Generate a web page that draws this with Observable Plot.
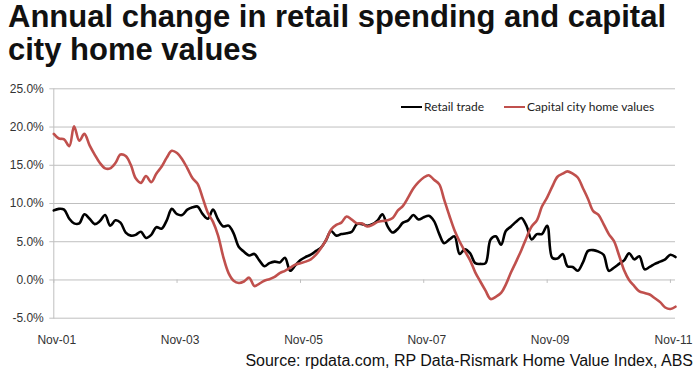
<!DOCTYPE html>
<html><head><meta charset="utf-8">
<script src="https://cdn.jsdelivr.net/npm/d3@7"></script>
<script src="https://cdn.jsdelivr.net/npm/@observablehq/plot@0.6"></script>
<style>
body{margin:0;background:#fff;width:698px;height:376px;overflow:hidden;position:relative;font-family:"Liberation Sans",Arial,sans-serif}
#title{height:70px;font-size:31px;font-weight:bold;line-height:33px;padding-left:8px;color:#111;white-space:nowrap}
#chart{height:280px}
#chart svg{display:block}
#caption{font-size:16px;line-height:18px;text-align:right;padding-right:5px;padding-top:2px;color:#111}
#legend{position:absolute;top:99px;left:401px;font-family:Lato,"Open Sans",sans-serif;font-size:12px;color:#222;white-space:nowrap;line-height:16px}
#legend .item{display:inline-block;margin-right:20px}
#legend .sw{display:inline-block;width:21px;height:0;border-top:2.5px solid;vertical-align:middle;margin-right:2px;position:relative;top:-1px}
</style></head>
<body>
<div id="title">Annual change in retail spending and capital<br>city home values</div>
<div id="chart"></div>
<div id="caption">Source: rpdata.com, RP Data-Rismark Home Value Index, ABS</div>
<div id="legend"></div>
<script>
// Monthly series from Nov-01 to Dec-11 (annual % change)
const seriesNames = ["Retail trade", "Capital city home values"];
const seriesColors = ["#000000", "#c0504d"];
const retail = [
 9.1, 9.3, 9.2, 8.0, 7.4, 7.4, 8.6, 8.0, 7.3, 7.7,
 8.5, 7.1, 7.8, 7.5, 6.2, 5.8, 5.9, 6.3, 5.5, 5.9,
 6.9, 6.7, 7.8, 9.3, 8.6, 8.5, 9.2, 9.5, 9.6, 8.6,
 8.0, 9.2, 7.9, 7.0, 7.1, 6.1, 4.3, 3.7, 3.2, 3.4,
 2.6, 1.8, 2.2, 2.4, 2.3, 2.9, 1.2, 1.9, 2.6, 3.0,
 3.3, 3.8, 4.2, 5.2, 6.4, 5.8, 6.0, 6.1, 6.3, 7.3,
 7.3, 7.1, 7.3, 7.8, 8.6, 7.0, 6.2, 6.7, 7.5, 7.8,
 8.5, 7.9, 8.2, 8.4, 7.7, 6.0, 4.8, 5.3, 5.7, 3.4,
 4.0, 3.5, 2.2, 2.1, 2.2, 5.3, 5.7, 4.6, 6.4, 7.0,
 7.6, 8.1, 7.1, 5.3, 6.0, 6.0, 7.1, 2.9, 2.8, 3.4,
 1.8, 1.7, 1.2, 2.3, 3.8, 3.9, 3.7, 3.3, 1.2, 1.6,
 2.1, 2.6, 3.5, 2.7, 3.1, 1.4, 1.7, 2.1, 2.4, 2.7,
 3.3, 3.0
];
const homes = [
 19.1, 18.5, 18.4, 17.5, 20.1, 18.2, 19.1, 17.6, 16.4, 15.3,
 14.6, 14.6, 15.3, 16.4, 16.2, 15.0, 13.3, 12.7, 13.6, 12.8,
 13.9, 14.8, 16.0, 16.9, 16.6, 15.8, 14.6, 13.3, 12.6, 10.7,
 8.8, 7.6, 5.8, 3.0, 0.9, -0.1, -0.4, -0.2, 0.3, -0.8,
 -0.5, -0.1, 0.1, 0.4, 0.9, 1.2, 1.6, 2.0, 2.2, 2.4,
 2.7, 3.3, 4.1, 5.2, 6.6, 7.2, 7.5, 8.3, 7.9, 7.4,
 7.4, 7.0, 7.2, 7.6, 7.7, 7.8, 8.1, 9.1, 9.7, 10.8,
 12.0, 12.8, 13.4, 13.7, 13.1, 12.5, 10.5, 8.4, 6.5, 5.0,
 3.8, 2.6, 1.0, -0.2, -1.4, -2.5, -2.2, -1.7, -0.6, 1.0,
 2.4, 3.9, 5.5, 7.0, 7.8, 9.6, 10.8, 12.2, 13.5, 13.9,
 14.2, 13.9, 13.4, 12.0, 10.6, 9.0, 8.5, 7.3, 6.0, 5.1,
 3.2, 1.2, 0.0, -0.8, -1.5, -1.7, -1.9, -2.4, -2.9, -3.6,
 -3.8, -3.5
];
const xTickLabels = ["Nov-01", "Nov-03", "Nov-05", "Nov-07", "Nov-09", "Nov-11"];
const yTicks = [-5, 0, 5, 10, 15, 20, 25];

const monthDate = i => new Date(Date.UTC(2001, 10 + i, 1));
const rows = retail.map((v, i) => ({date: monthDate(i), retail: v, homes: homes[i]}));
const tickDates = xTickLabels.map((_, i) => monthDate(24 * i));
const labelFor = d => xTickLabels[tickDates.findIndex(t => +t === +d)];

const grid = "#bfbfbf";
const chart = Plot.plot({
  width: 698, height: 280,
  marginTop: 18.3, marginBottom: 32.3, marginLeft: 53.3, marginRight: 23,
  style: {fontFamily: "'Liberation Sans', Arial, sans-serif", fontSize: "12px", background: "#fff", overflow: "visible"},
  x: {type: "utc", domain: [monthDate(0), monthDate(retail.length - 1)]},
  y: {domain: [-5, 25]},
  marks: [
    Plot.gridY(yTicks, {stroke: grid, strokeOpacity: 1, strokeWidth: 1}),
    Plot.frame({anchor: "left", stroke: grid, strokeWidth: 1}),
    Plot.ruleX(tickDates, {y1: 0, y2: -0.45, stroke: grid}),
    Plot.axisY({ticks: yTicks, tickFormat: d => d.toFixed(1) + "%", tickSize: 4, tickPadding: 6, stroke: grid, fill: "#333", label: null}),
    Plot.axisX({ticks: tickDates, tickFormat: labelFor, tickSize: 0, tickPadding: 17, dx: 3, fill: "#333", label: null}),
    Plot.line(rows, {x: "date", y: "retail", stroke: seriesColors[0], strokeWidth: 2.6, curve: "catmull-rom"}),
    Plot.line(rows, {x: "date", y: "homes", stroke: seriesColors[1], strokeWidth: 2.6, curve: "catmull-rom"})
  ]
});
document.getElementById("chart").appendChild(chart);

const legend = document.getElementById("legend");
seriesNames.forEach((name, i) => {
  const item = document.createElement("span");
  item.className = "item";
  const sw = document.createElement("span");
  sw.className = "sw";
  sw.style.borderColor = seriesColors[i];
  item.appendChild(sw);
  item.appendChild(document.createTextNode(name));
  legend.appendChild(item);
});
</script>
</body></html>
